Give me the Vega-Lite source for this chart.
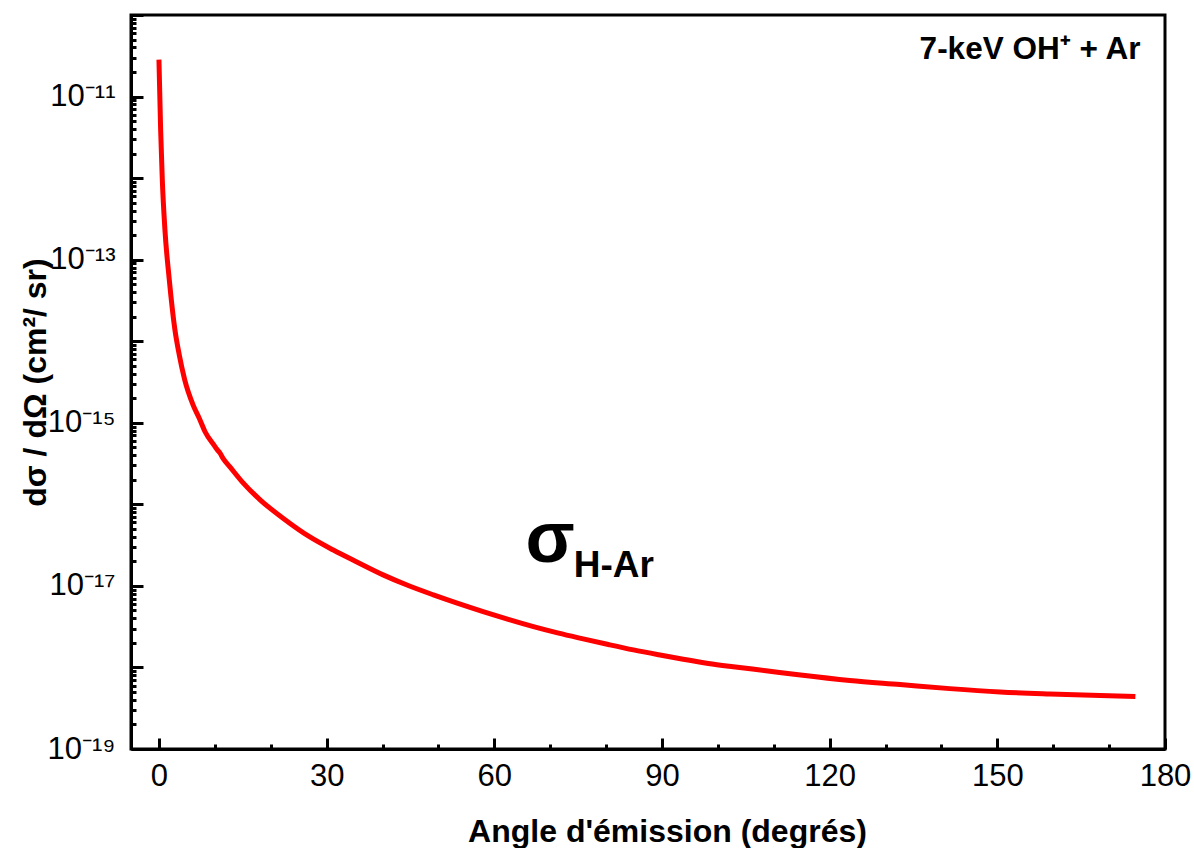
{
  "$schema": "https://vega.github.io/schema/vega-lite/v6.json",
  "width": 1034,
  "height": 734,
  "autosize": "none",
  "padding": {"left": 131, "top": 15, "right": 29, "bottom": 99},
  "background": "white",
  "config": {
    "view": {"stroke": "black", "strokeWidth": 3},
    "font": "Liberation Sans",
    "axis": {
      "grid": false,
      "domainColor": "black",
      "domainWidth": 3,
      "tickColor": "black",
      "tickWidth": 3,
      "labelColor": "black",
      "labelFont": "Liberation Sans",
      "labelFontSize": 31,
      "titleFont": "Liberation Sans",
      "titleFontSize": 32,
      "titleFontWeight": "bold",
      "titleColor": "black"
    }
  },
  "data": {
    "values": [
      {"angle": 0, "sigma": 2.84e-11},
      {"angle": 0.3, "sigma": 3.98e-12},
      {"angle": 0.6, "sigma": 9.55e-13},
      {"angle": 1.07, "sigma": 2.34e-13},
      {"angle": 1.85, "sigma": 5.69e-14},
      {"angle": 2.86, "sigma": 1.38e-14},
      {"angle": 3.63, "sigma": 6.84e-15},
      {"angle": 4.6, "sigma": 3.39e-15},
      {"angle": 6.1, "sigma": 1.66e-15},
      {"angle": 7.25, "sigma": 1.12e-15},
      {"angle": 8.25, "sigma": 7.76e-16},
      {"angle": 10.0, "sigma": 5.13e-16},
      {"angle": 10.3, "sigma": 4.79e-16},
      {"angle": 10.9, "sigma": 4.27e-16},
      {"angle": 11.5, "sigma": 3.63e-16},
      {"angle": 12.7, "sigma": 2.88e-16},
      {"angle": 15.1, "sigma": 1.82e-16},
      {"angle": 18.1, "sigma": 1.135e-16},
      {"angle": 22.2, "sigma": 6.76e-17},
      {"angle": 27.0, "sigma": 3.98e-17},
      {"angle": 31.2, "sigma": 2.75e-17},
      {"angle": 35.5, "sigma": 1.95e-17},
      {"angle": 40.1, "sigma": 1.365e-17},
      {"angle": 44.6, "sigma": 1.01e-17},
      {"angle": 49.1, "sigma": 7.76e-18},
      {"angle": 53.5, "sigma": 6.10e-18},
      {"angle": 58.0, "sigma": 4.84e-18},
      {"angle": 62.5, "sigma": 3.89e-18},
      {"angle": 67.0, "sigma": 3.16e-18},
      {"angle": 71.5, "sigma": 2.63e-18},
      {"angle": 75.9, "sigma": 2.24e-18},
      {"angle": 80.4, "sigma": 1.91e-18},
      {"angle": 84.9, "sigma": 1.64e-18},
      {"angle": 89.4, "sigma": 1.43e-18},
      {"angle": 93.8, "sigma": 1.26e-18},
      {"angle": 98.3, "sigma": 1.12e-18},
      {"angle": 102.75, "sigma": 1.02e-18},
      {"angle": 108.6, "sigma": 9.12e-19},
      {"angle": 114.4, "sigma": 8.13e-19},
      {"angle": 123.6, "sigma": 6.92e-19},
      {"angle": 132.6, "sigma": 6.17e-19},
      {"angle": 141.5, "sigma": 5.50e-19},
      {"angle": 150.5, "sigma": 5.01e-19},
      {"angle": 159.4, "sigma": 4.73e-19},
      {"angle": 168.4, "sigma": 4.52e-19},
      {"angle": 174.7, "sigma": 4.39e-19}
    ]
  },
  "layer": [
    {
      "mark": {"type": "line", "color": "#ff0000", "strokeWidth": 5, "interpolate": "monotone"},
      "encoding": {
        "x": {
          "field": "angle", "type": "quantitative",
          "scale": {"domain": [-5, 180], "nice": false, "zero": false},
          "axis": {
            "orient": "bottom",
            "values": [0, 30, 60, 90, 120, 150, 180],
            "tickSize": -11,
            "labelPadding": 23,
            "labelFlush": false,
            "title": "Angle d'émission (degrés)",
            "titleX": 536,
            "titleY": 92,
            "titleBaseline": "alphabetic"
          }
        },
        "y": {
          "field": "sigma", "type": "quantitative",
          "scale": {"type": "log", "domain": [1e-19, 1e-10], "nice": false},
          "axis": {
            "orient": "left",
            "values": [1e-19, 1e-18, 1e-17, 1e-16, 1e-15, 1e-14, 1e-13, 1e-12, 1e-11, 1e-10],
            "tickSize": -12,
            "labelPadding": 28,
            "labelFlush": false,
            "labelExpr": "round(log(datum.value)/LN10) == -11 ? '10⁻¹¹' : round(log(datum.value)/LN10) == -13 ? '10⁻¹³' : round(log(datum.value)/LN10) == -15 ? '10⁻¹⁵' : round(log(datum.value)/LN10) == -17 ? '10⁻¹⁷' : round(log(datum.value)/LN10) == -19 ? '10⁻¹⁹' : ''",
            "title": "dσ / dΩ  (cm²/ sr)",
            "titleX": -86,
            "titleY": 367,
            "titleBaseline": "alphabetic"
          }
        }
      }
    },
    {
      "mark": {"type": "line", "strokeOpacity": 0},
      "encoding": {
        "x": {
          "field": "angle", "type": "quantitative",
          "scale": {"domain": [-5, 180], "nice": false, "zero": false},
          "axis": {
            "orient": "bottom",
            "values": [10, 20, 40, 50, 70, 80, 100, 110, 130, 140, 160, 170],
            "tickSize": -5,
            "labels": false,
            "domain": false,
            "title": null
          }
        },
        "y": {
          "field": "sigma", "type": "quantitative",
          "scale": {"type": "log", "domain": [1e-19, 1e-10], "nice": false},
          "axis": {
            "orient": "left",
            "values": [
              2e-19, 3e-19, 4e-19, 5e-19, 6e-19, 7e-19, 8e-19, 9e-19,
              2e-18, 3e-18, 4e-18, 5e-18, 6e-18, 7e-18, 8e-18, 9e-18,
              2e-17, 3e-17, 4e-17, 5e-17, 6e-17, 7e-17, 8e-17, 9e-17,
              2e-16, 3e-16, 4e-16, 5e-16, 6e-16, 7e-16, 8e-16, 9e-16,
              2e-15, 3e-15, 4e-15, 5e-15, 6e-15, 7e-15, 8e-15, 9e-15,
              2e-14, 3e-14, 4e-14, 5e-14, 6e-14, 7e-14, 8e-14, 9e-14,
              2e-13, 3e-13, 4e-13, 5e-13, 6e-13, 7e-13, 8e-13, 9e-13,
              2e-12, 3e-12, 4e-12, 5e-12, 6e-12, 7e-12, 8e-12, 9e-12,
              2e-11, 3e-11, 4e-11, 5e-11, 6e-11, 7e-11, 8e-11, 9e-11
            ],
            "tickSize": -5,
            "labels": false,
            "domain": false,
            "title": null
          }
        }
      }
    },
    {
      "data": {"values": [{"label": "7-keV OH⁺ + Ar"}]},
      "mark": {"type": "text", "align": "right", "baseline": "alphabetic", "fontSize": 31.5, "fontWeight": "bold", "font": "Liberation Sans", "color": "black"},
      "encoding": {
        "text": {"field": "label"},
        "x": {"datum": 175.6, "type": "quantitative", "axis": null},
        "y": {"datum": 2.92e-11, "type": "quantitative", "axis": null}
      }
    },
    {
      "data": {"values": [{"label": "σ"}]},
      "mark": {"type": "text", "align": "left", "baseline": "alphabetic", "fontSize": 72, "fontWeight": "bold", "font": "Liberation Sans", "color": "black"},
      "encoding": {
        "text": {"field": "label"},
        "x": {"datum": 65.6, "type": "quantitative", "axis": null},
        "y": {"datum": 1.97e-17, "type": "quantitative", "axis": null}
      }
    },
    {
      "data": {"values": [{"label": "H-Ar"}]},
      "mark": {"type": "text", "align": "left", "baseline": "alphabetic", "fontSize": 37, "fontWeight": "bold", "font": "Liberation Sans", "color": "black"},
      "encoding": {
        "text": {"field": "label"},
        "x": {"datum": 74.2, "type": "quantitative", "axis": null},
        "y": {"datum": 1.29e-17, "type": "quantitative", "axis": null}
      }
    }
  ],
  "resolve": {"axis": {"x": "independent", "y": "independent"}}
}
